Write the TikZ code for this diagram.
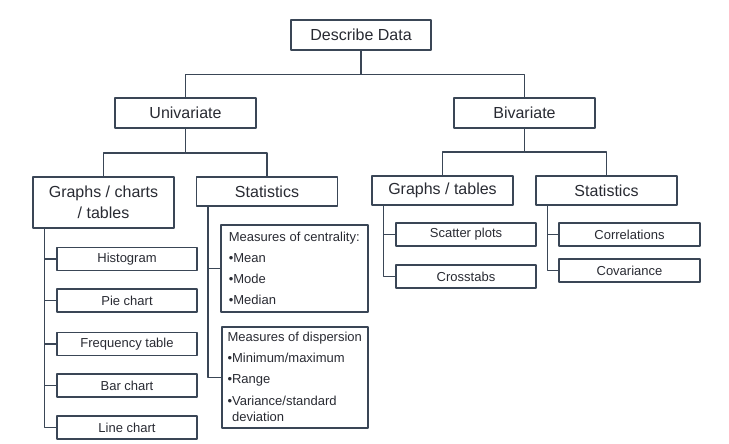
\documentclass[tikz,border=0pt]{standalone}
\usepackage{fontspec}
\setmainfont{Liberation Sans}
\definecolor{edge}{RGB}{58,70,86}
\definecolor{ink}{RGB}{40,42,50}
\begin{document}
\begin{tikzpicture}[x=1pt, y=-1pt, line join=round,
	box/.style={draw=edge, line width=1.5pt, text=ink, inner sep=2pt, font=\fontsize{16}{19}\selectfont, align=center},
	big/.style={box, minimum width=141pt, minimum height=30pt},
	leaf/.style={box, minimum width=140pt, minimum height=23pt, font=\fontsize{13}{15}\selectfont},
	list/.style={box, anchor=north west, align=left, inner sep=5pt, font=\fontsize{13}{16}\selectfont},
	link/.style={draw=edge, line width=1.5pt}]
	\useasboundingbox (0,0) rectangle (729,444);
	\node[big, minimum width=140pt] (data) at (361,35) {Describe Data};
	\node[big] (uni) at (185.5,113) {Univariate};
	\node[big] (biv) at (524.5,113) {Bivariate};
	\node[big, minimum height=51pt] (ugraph) at (103.5,202.5) {Graphs / charts\\[2pt]/ tables};
	\node[big, minimum height=29pt] (ustat) at (267,191.5) {Statistics};
	\node[big, minimum height=29pt] (bgraph) at (442.5,190.5) {Graphs / tables};
	\node[big, minimum height=29pt] (bstat) at (606.5,190.5) {Statistics};
	\node[leaf] (hist) at (127,259) {Histogram};
	\node[leaf] (pie) at (127,300.5) {Pie chart};
	\node[leaf] (freq) at (127,344) {Frequency table};
	\node[leaf] (bar) at (127,385.5) {Bar chart};
	\node[leaf] (line) at (127,427.5) {Line chart};
	\node[list, minimum width=147pt, minimum height=87pt] (central) at (220,224)
		{Measures of centrality:\\[5pt] •Mean\\[5pt] •Mode\\[5pt] •Median};
	\node[list, minimum width=146pt, minimum height=101pt] (disp) at (221,326)
		{Measures of dispersion\\[5pt] •Minimum/maximum\\[5pt] •Range\\[6pt] •Variance/standard\\ \hphantom{•}deviation};
	\node[leaf] (scatter) at (466,234.5) {Scatter plots};
	\node[leaf] (cross) at (466,276.5) {Crosstabs};
	\node[leaf, minimum width=141pt] (corr) at (629.5,234.5) {Correlations};
	\node[leaf, minimum width=141pt] (cov) at (629.5,270.5) {Covariance};
	\draw[link] (data.south) -- ++(0,24) -| (uni.north);
	\draw[link] (data.south) -- ++(0,24) -| (biv.north);
	\draw[link] (uni.south) -- ++(0,24) -| (ugraph.north);
	\draw[link] (uni.south) -- ++(0,24) -| (ustat.north);
	\draw[link] (biv.south) -- ++(0,23) -| (bgraph.north);
	\draw[link] (biv.south) -- ++(0,23) -| (bstat.north);
	\foreach \n in {hist,pie,freq,bar,line}
		\draw[link] ([xshift=12pt]ugraph.south west) |- (\n.west);
	\foreach \n in {central,disp}
		\draw[link] ([xshift=12pt]ustat.south west) |- (\n.west);
	\foreach \n in {scatter,cross}
		\draw[link] ([xshift=12pt]bgraph.south west) |- (\n.west);
	\foreach \n in {corr,cov}
		\draw[link] ([xshift=12pt]bstat.south west) |- (\n.west);
\end{tikzpicture}
\end{document}
